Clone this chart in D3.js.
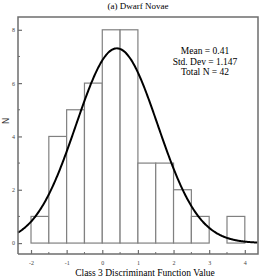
<!DOCTYPE html>
<html><head><meta charset="utf-8">
<script src="https://cdn.jsdelivr.net/npm/d3@7"></script>
<style>body{margin:0;background:#fff}svg{display:block}</style>
</head><body>
<script>
const binStarts = [-2,-1.5,-1,-0.5,0,0.5,1,1.5,2,2.5,3,3.5];
const binCounts = [1,4,5,6,8,8,3,3,2,1,0,1];
const binWidth = 0.5;
const mean = 0.41, stdDev = 1.147, totalN = 42;
const xTicks = [-2,-1,0,1,2,3,4];
const yTicks = [0,2,4,6,8];
const statLines = ["Mean = 0.41","Std. Dev = 1.147","Total N = 42"];

const W=270,H=280;
const L=18,R=258,T=17,B=254;
const svg=d3.select("body").append("svg").attr("width",W).attr("height",H);
const x=d3.scaleLinear().domain([-2.365,4.37]).range([L,R]);
const y=d3.scaleLinear().domain([-0.41,8.48]).range([B,T]);
const font="'Liberation Serif','Times New Roman',serif";

// bars
svg.append("g").selectAll("rect").data(binStarts).join("rect")
  .attr("x",d=>x(d)).attr("width",(d)=>x(d+binWidth)-x(d))
  .attr("y",(d,i)=>y(binCounts[i])).attr("height",(d,i)=>y(0)-y(binCounts[i]))
  .attr("fill","#fff").attr("stroke","#808080").attr("stroke-width",1.2);

// normal curve fit from the stated mean / std. dev / N
const scale = totalN*binWidth/(stdDev*Math.sqrt(2*Math.PI));
const xs = d3.range(-2.365,4.375,0.02);
const line=d3.line().x(d=>x(d)).y(d=>y(scale*Math.exp(-0.5*((d-mean)/stdDev)**2))).curve(d3.curveBasis);
svg.append("path").datum(xs).attr("d",line).attr("fill","none").attr("stroke","#000").attr("stroke-width",2);

// frame
svg.append("path").attr("d",`M${L},${B}V${T}H${R}V${B}H${L}`).attr("fill","none").attr("stroke","#6e6e6e").attr("stroke-width",1.5);

// axes
const xAx=d3.axisBottom(x).tickValues(xTicks).tickSize(-4).tickPadding(7).tickFormat(d=>d);
const gx=svg.append("g").attr("transform",`translate(0,${B})`).call(xAx);
const yAx=d3.axisLeft(y).tickValues(yTicks).tickSize(-4).tickPadding(3).tickFormat(d=>d);
const gy=svg.append("g").attr("transform",`translate(${L},0)`).call(yAx);
[gx,gy].forEach(g=>{g.select(".domain").remove();
  g.selectAll(".tick line").attr("stroke","#6e6e6e").attr("stroke-width",1.2);
  g.selectAll("text").attr("font-family",font).attr("font-size",6).attr("fill","#444");});
// minor ticks
svg.append("g").selectAll("line").data(d3.range(-1.5,4.5,1)).join("line")
  .attr("x1",d=>x(d)).attr("x2",d=>x(d)).attr("y1",B).attr("y2",B-2).attr("stroke","#6e6e6e");
svg.append("g").selectAll("line").data([1,3,5,7]).join("line")
  .attr("x1",L).attr("x2",L+2).attr("y1",d=>y(d)).attr("y2",d=>y(d)).attr("stroke","#6e6e6e");

// texts
svg.append("text").attr("x",138).attr("y",9).attr("text-anchor","middle")
  .attr("font-family",font).attr("font-size",9).text("(a) Dwarf Novae");
svg.append("text").attr("x",145).attr("y",276).attr("text-anchor","middle")
  .attr("font-family",font).attr("font-size",9.5).text("Class 3 Discriminant Function Value");
svg.append("text").attr("transform","translate(9,121) rotate(-90)").attr("text-anchor","middle")
  .attr("font-family","'DejaVu Sans',sans-serif").attr("font-size",9).attr("fill","#333").text("N");
svg.append("g").selectAll("text").data(statLines).join("text")
  .attr("x",205).attr("y",(d,i)=>54+i*10.6).attr("text-anchor","middle")
  .attr("font-family",font).attr("font-size",9.5).text(d=>d);
</script>
</body></html>
